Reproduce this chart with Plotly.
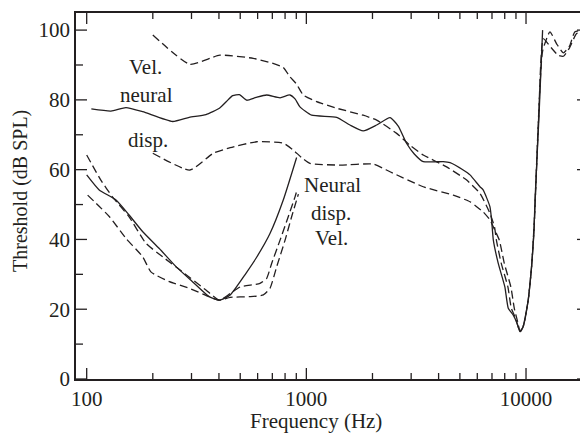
import math
import plotly.graph_objects as go

# ---------------- data ----------------
# upper group (high-level curves), continuing through the notch
neural_hi_f = [105, 129, 151, 180, 246, 293, 349, 402, 440, 462, 496, 535, 590, 659, 759, 842, 890,
               935, 1057, 1374, 1579, 1815, 2090, 2404, 2620, 2862, 3100, 3405, 4198, 4510, 5175,
               5560, 6170, 6380, 6850, 6970, 7100, 7470, 8010, 8300, 8750, 9100, 9380, 9700, 10230,
               10600, 10860, 10990, 11450, 11900]
neural_hi_y = [77.4, 76.8, 77.8, 76.6, 73.8, 75.0, 75.8, 77.6, 80.0, 81.2, 81.5, 79.9, 80.7, 81.4, 80.6, 81.4, 80.2,
               78.0, 75.6, 75.0, 72.8, 71.1, 72.8, 74.9, 72.5, 67.5, 64.5, 62.3, 62.3, 62.0, 59.9,
               58.5, 55.1, 54.2, 49.4, 45.6, 39.8, 33.2, 26.4, 20.3, 18.3, 16.0, 13.6, 15.0, 22.6,
               32.2, 41.7, 51.3, 75.0, 100.0]

vel_hi_f = [200, 295, 404, 573, 700, 785, 842, 903, 968, 1114, 1374, 1815, 2090, 2576, 2960, 3405,
            4350, 5370, 6170, 6850, 7190, 7330, 7710, 8270, 8570, 8950, 9400, 9700, 10230, 10600,
            10900, 11400, 11900, 12850, 13800, 14800, 15800, 16700, 19000]
vel_hi_y = [98.6, 90.2, 92.8, 91.9, 90.5, 89.3, 86.6, 84.5, 81.4, 79.5, 77.6, 75.6, 74.2, 70.4, 67.0, 64.2,
            60.8, 57.0, 53.2, 47.5, 43.5, 39.8, 33.2, 26.4, 20.3, 17.5, 13.6, 15.0, 22.6, 32.2,
            45.0, 75.0, 94.0, 99.5, 96.0, 93.5, 95.5, 99.5, 100.0]

disp_hi_f = [200, 295, 377, 450, 594, 785, 872, 950, 1038, 1422, 2017, 2404, 3405, 4665, 5560, 5960,
             6380, 6850, 7230, 7560, 7960, 8530, 8840, 9150, 9400, 9700, 10230, 10600, 10900, 11400,
             12000, 13000, 14000, 14800, 15800, 17000, 19000]
disp_hi_y = [64.7, 59.9, 64.7, 66.3, 68.0, 67.6, 65.6, 63.5, 61.8, 61.3, 61.6, 59.4, 55.1, 52.7, 50.8, 49.4,
             47.9, 45.6, 42.5, 39.8, 33.2, 26.4, 20.3, 16.5, 13.6, 15.0, 22.6, 32.2, 44.0, 74.0,
             97.5, 95.0, 92.8, 92.5, 95.0, 99.0, 100.0]

# lower group (low-frequency V-shaped curves)
neural_lo_f = [100, 114, 136, 156, 180, 214, 255, 303, 361, 402, 450, 531, 590, 683, 785, 903]
neural_lo_y = [58.5, 54.2, 51.3, 47.0, 42.2, 37.4, 32.2, 27.9, 23.6, 22.6, 24.1, 30.3, 34.6, 41.7, 51.3, 63.5]

disp_lo_f = [100, 116, 131, 156, 186, 222, 273, 349, 402, 450, 500, 615, 659, 695, 759, 827, 888, 910]
disp_lo_y = [64.2, 57.0, 52.2, 46.5, 38.9, 35.0, 30.7, 25.5, 22.6, 24.5, 26.4, 27.4, 28.8, 33.1, 39.8, 46.5, 52.2, 54.5]

vel_lo_f = [101, 127, 151, 180, 196, 238, 293, 361, 402, 450, 553, 637, 683, 733, 800, 857, 920]
vel_lo_y = [52.7, 46.5, 40.3, 35.0, 30.7, 27.9, 26.0, 23.6, 22.6, 23.4, 23.6, 24.1, 26.0, 32.2, 39.8, 46.5, 53.0]

x_ticks = [100, 1000, 10000]
x_minor = [200, 300, 400, 500, 600, 700, 800, 900, 2000, 3000, 4000, 5000, 6000, 7000, 8000, 9000]
y_ticks = [0, 20, 40, 60, 80, 100]
y_minor = [10, 30, 50, 70, 90]

labels = ["Vel.", "neural", "disp.", "Neural", "disp.", "Vel."]
label_f = [186, 188, 190, 1321, 1294, 1308]
label_y = [89.4, 81.4, 68.5, 55.6, 47.6, 40.4]

# ---------------- figure ----------------
# frequency axis is logarithmic: values are placed at log10(Hz) on the x axis
lg = lambda seq: [math.log10(v) for v in seq]
X_RANGE = [math.log10(89.4), math.log10(19150)]
Y_RANGE = [0, 104.9]

INK = "#231f20"
FONT = "Liberation Serif"
SOLID = dict(color=INK, width=1.3, shape="spline", smoothing=0.5)
DASHED = dict(color=INK, width=1.3, dash="8px,4px", shape="spline", smoothing=0.5)

fig = go.Figure()
for fx, fy, ln in [
    (neural_hi_f, neural_hi_y, SOLID),
    (vel_hi_f, vel_hi_y, DASHED),
    (disp_hi_f, disp_hi_y, DASHED),
    (neural_lo_f, neural_lo_y, SOLID),
    (disp_lo_f, disp_lo_y, DASHED),
    (vel_lo_f, vel_lo_y, DASHED),
]:
    fig.add_trace(go.Scatter(x=lg(fx), y=fy, mode="lines", line=ln, showlegend=False,
                             customdata=fx, hovertemplate="%{customdata} Hz, %{y} dB<extra></extra>"))

for t, fx, fy in zip(labels, label_f, label_y):
    fig.add_annotation(x=math.log10(fx), y=fy, text=t, showarrow=False, xref="x", yref="y",
                       font=dict(family=FONT, size=21, color=INK))

# axis titles
fig.add_annotation(x=0.469, y=-0.115, xref="paper", yref="paper", text="Frequency (Hz)",
                   showarrow=False, xanchor="center", yanchor="middle",
                   font=dict(family=FONT, size=21, color=INK))
fig.add_annotation(x=-0.1075, y=0.5137, xref="paper", yref="paper", text="Threshold (dB SPL)",
                   showarrow=False, xanchor="center", yanchor="middle", textangle=-90,
                   font=dict(family=FONT, size=20, color=INK))

# inward tick marks on all four sides, placed on the axis scales
TICK = dict(color=INK, width=1.3)
for vals, length in [(lg(x_ticks), 11), (lg(x_minor), 6)]:
    for v in vals:
        fig.add_shape(type="line", xref="x", yref="y", x0=v, x1=v, ysizemode="pixel",
                      yanchor=Y_RANGE[0], y0=0, y1=length, line=TICK)
        fig.add_shape(type="line", xref="x", yref="y", x0=v, x1=v, ysizemode="pixel",
                      yanchor=Y_RANGE[1], y0=0, y1=-length, line=TICK)
for vals, length in [(y_ticks, 11), (y_minor, 7)]:
    for v in vals:
        fig.add_shape(type="line", xref="x", yref="y", y0=v, y1=v, xsizemode="pixel",
                      xanchor=X_RANGE[0], x0=0, x1=length, line=TICK)
        fig.add_shape(type="line", xref="x", yref="y", y0=v, y1=v, xsizemode="pixel",
                      xanchor=X_RANGE[1], x0=0, x1=-length, line=TICK)

# the page body has an 8px margin, so the figure is sized/offset to compensate
fig.update_layout(
    width=580, height=431,
    margin=dict(l=68, r=0, t=5, b=60),
    plot_bgcolor="white", paper_bgcolor="white",
    font=dict(family=FONT, size=21, color=INK),
    xaxis=dict(
        range=X_RANGE, automargin=False,
        tickmode="array", tickvals=lg(x_ticks), ticktext=[str(v) for v in x_ticks],
        ticks="", showline=True, linecolor=INK, linewidth=1.5, mirror=True,
        showgrid=False, zeroline=False, tickfont=dict(size=21),
    ),
    yaxis=dict(
        range=Y_RANGE, automargin=False,
        tickmode="array", tickvals=y_ticks,
        ticks="", showline=True, linecolor=INK, linewidth=1.5, mirror=True,
        showgrid=False, zeroline=False, tickfont=dict(size=21),
    ),
)

fig.write_html("out.html")
